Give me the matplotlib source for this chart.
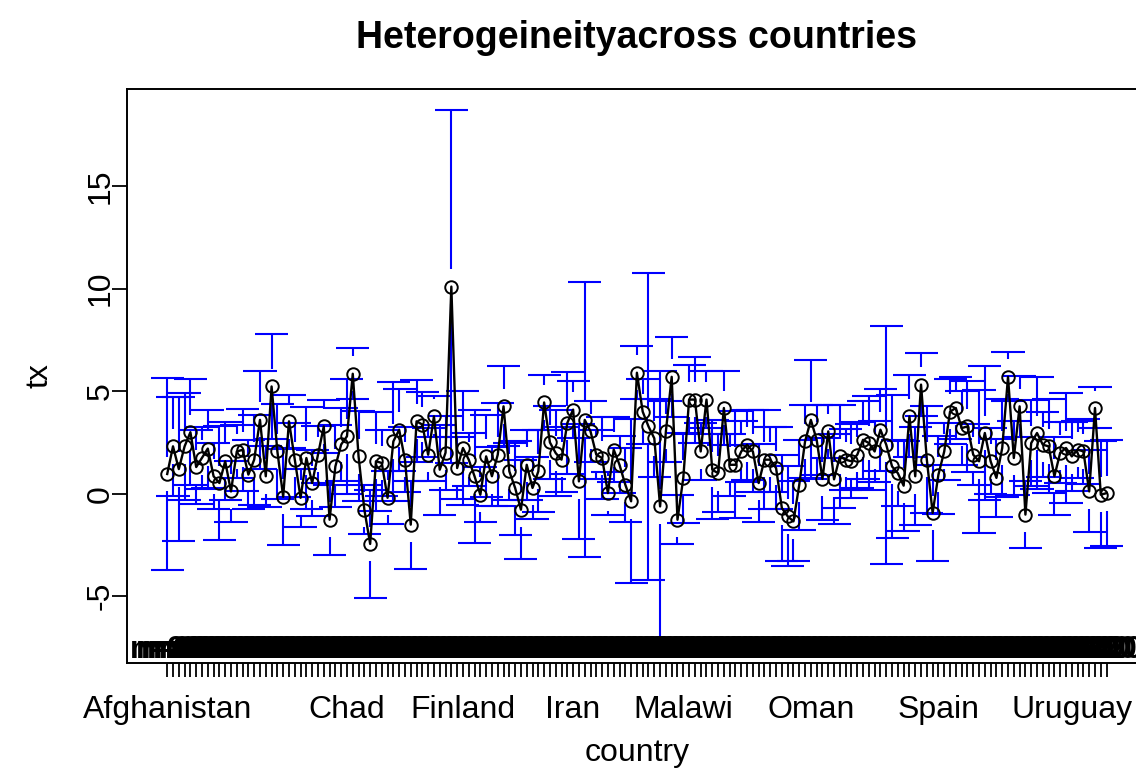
import matplotlib
matplotlib.use("Agg")
import matplotlib.pyplot as plt
import numpy as np
from matplotlib.transforms import blended_transform_factory

plt.rcParams['font.family'] = ['Liberation Sans', 'DejaVu Sans']

countries = [
    "Afghanistan", "Albania", "Algeria", "Angola", "Argentina", "Armenia", "Australia", "Austria",
    "Azerbaijan", "Bahamas", "Bahrain", "Bangladesh", "Barbados", "Belarus", "Belgium", "Belize",
    "Benin", "Bhutan", "Bolivia", "Bosnia and Herzegovina", "Botswana", "Brazil", "Brunei",
    "Bulgaria", "Burkina Faso", "Burundi", "Cambodia", "Cameroon", "Canada", "Cape Verde",
    "Central African Republic", "Chad", "Chile", "China", "Colombia", "Comoros", "Congo, Dem. Rep.",
    "Congo, Rep.", "Costa Rica", "Cote d'Ivoire", "Croatia", "Cyprus", "Czech Republic", "Denmark",
    "Dominican Republic", "Ecuador", "Egypt", "El Salvador", "Estonia", "Ethiopia", "Fiji",
    "Finland", "France", "Gabon", "Gambia", "Georgia", "Germany", "Ghana", "Greece", "Guatemala",
    "Guinea", "Guinea-Bissau", "Guyana", "Haiti", "Honduras", "Hong Kong", "Hungary", "Iceland",
    "India", "Indonesia", "Iran", "Ireland", "Israel", "Italy", "Jamaica", "Japan", "Jordan",
    "Kazakhstan", "Kenya", "Korea", "Kuwait", "Kyrgyzstan", "Lao PDR", "Latvia", "Lebanon",
    "Lesotho", "Lithuania", "Luxembourg", "Madagascar", "Malawi", "Malaysia", "Maldives", "Mali",
    "Malta", "Mauritania", "Mauritius", "Mexico", "Moldova", "Mongolia", "Montenegro", "Morocco",
    "Mozambique", "Myanmar", "Namibia", "Nepal", "Netherlands", "New Zealand", "Nicaragua", "Niger",
    "Nigeria", "Norway", "Oman", "Pakistan", "Panama", "Papua New Guinea", "Paraguay", "Peru",
    "Philippines", "Poland", "Portugal", "Qatar", "Romania", "Russia", "Rwanda", "Saudi Arabia",
    "Senegal", "Serbia", "Sierra Leone", "Singapore", "Slovak Republic", "Slovenia",
    "Solomon Islands", "South Africa", "Spain", "Sri Lanka", "Sudan", "Suriname", "Swaziland",
    "Sweden", "Switzerland", "Syria", "Taiwan", "Tajikistan", "Tanzania", "Thailand", "Togo",
    "Tonga", "Trinidad and Tobago", "Tunisia", "Turkey", "Turkmenistan", "Uganda", "Ukraine",
    "United Arab Emirates", "United Kingdom", "United States", "Uruguay", "Uzbekistan",
    "Venezuela", "Vietnam", "Yemen", "Zambia", "Zimbabwe",
]

shown_labels = ["Afghanistan", "Chad", "Finland", "Iran", "Malawi", "Oman", "Spain", "Uruguay"]

means = [
    0.96, 2.31, 1.2, 2.31, 3.0, 1.3, 1.75, 2.2, 0.85, 0.52,
    1.58, 0.11, 2.06, 2.14, 0.93, 1.66, 3.6, 0.85, 5.23, 2.06,
    -0.15, 3.53, 1.66, -0.2, 1.74, 0.52, 1.9, 3.28, -1.27, 1.33,
    2.4, 2.8, 5.85, 1.82, -0.78, -2.45, 1.58, 1.5, -0.2, 2.55,
    3.12, 1.66, -1.51, 3.53, 3.37, 1.9, 3.77, 1.17, 2.0, 10.1,
    1.25, 2.23, 1.66, 0.85, -0.05, 1.82, 0.85, 1.9, 4.26, 1.09,
    0.28, -0.78, 1.41, 0.28, 1.09, 4.45, 2.5, 1.98, 1.66, 3.45,
    4.1, 0.6, 3.6, 3.04, 1.9, 1.74, 0.03, 2.15, 1.41, 0.44,
    -0.37, 5.9, 4.0, 3.28, 2.7, -0.62, 3.04, 5.7, -1.27, 0.77,
    4.59, 4.59, 2.06, 4.59, 1.17, 1.0, 4.18, 1.41, 1.41, 2.06,
    2.39, 2.06, 0.52, 1.66, 1.66, 1.25, -0.7, -1.1, -1.35, 0.44,
    2.55, 3.6, 2.63, 0.72, 3.04, 0.7, 1.82, 1.66, 1.58, 1.9,
    2.63, 2.47, 2.06, 3.12, 2.39, 1.33, 1.0, 0.39, 3.77, 0.85,
    5.32, 1.66, -0.94, 0.93, 2.06, 4.0, 4.18, 3.2, 3.28, 1.9,
    1.58, 2.96, 1.58, 0.77, 2.23, 5.7, 1.74, 4.26, -1.02, 2.47,
    2.96, 2.39, 2.31, 0.85, 2.0, 2.23, 1.82, 2.15, 2.06, 0.11,
    4.18, -0.05, 0.03,
]

ci_half = [
    4.7, 2.4, 3.5, 2.6, 2.6, 1.8, 1.5, 1.9, 1.6, 2.8,
    1.9, 1.5, 1.3, 2.0, 1.7, 2.2, 2.4, 1.5, 2.55, 2.3,
    2.35, 1.3, 1.8, 1.4, 2.5, 1.6, 1.4, 1.3, 1.7, 2.0,
    1.8, 2.8, 1.25, 2.2, 1.2, 2.65, 2.4, 1.6, 1.3, 2.9,
    2.0, 1.6, 2.15, 2.0, 1.6, 1.3, 1.0, 2.2, 1.8, 8.6,
    1.5, 2.8, 1.3, 3.25, 1.35, 2.0, 1.45, 2.5, 1.95, 1.4,
    2.3, 2.4, 1.7, 1.5, 2.0, 1.35, 1.8, 2.1, 1.6, 2.5,
    1.4, 2.8, 6.7, 1.5, 1.2, 2.0, 1.05, 1.6, 1.4, 1.8,
    4.0, 1.3, 1.6, 7.5, 1.9, 6.6, 1.5, 1.95, 1.2, 2.2,
    1.67, 2.1, 1.4, 1.4, 2.4, 1.9, 1.8, 1.5, 2.6, 1.5,
    1.7, 2.0, 1.9, 2.4, 1.6, 2.0, 2.6, 2.45, 1.95, 2.2,
    1.8, 2.9, 1.7, 2.0, 1.3, 2.2, 2.5, 1.5, 1.8, 1.6,
    1.9, 2.3, 1.5, 2.0, 5.8, 3.5, 1.6, 2.2, 2.0, 2.4,
    1.55, 2.6, 2.36, 1.9, 1.4, 1.6, 1.5, 1.8, 2.2, 1.5,
    3.5, 3.25, 1.6, 1.9, 2.4, 1.2, 1.8, 1.5, 1.65, 2.1,
    2.75, 1.6, 2.3, 1.9, 1.5, 2.7, 1.7, 1.4, 1.6, 2.0,
    1.0, 2.6, 2.6,
]

# number of observations per country (unreadable in the picture: labels overlap into a band)
n_obs = [20] * len(countries)

W, H = 1136, 778
fig = plt.figure(figsize=(W / 100, H / 100), dpi=100)
left_px, right_px, top_px, bot_px = 126.5, 1147.3, 89, 663
ax = fig.add_axes([left_px / W, 1 - bot_px / H, (right_px - left_px) / W, (bot_px - top_px) / H])

x = np.arange(len(countries))
m = np.array(means)
h = np.array(ci_half)
lo = m - h
hi = m + h
gap = 0.85
cap = 2.85

ax.vlines(x, lo, np.maximum(lo, m - gap), color="blue", lw=1.5, zorder=2)
ax.vlines(x, np.minimum(hi, m + gap), hi, color="blue", lw=1.5, zorder=2)
ax.hlines(lo, x - cap, x + cap, color="blue", lw=1.5, zorder=2)
ax.hlines(hi, x - cap, x + cap, color="blue", lw=1.5, zorder=2)

ax.plot(x, m, color="black", lw=1.7, zorder=3)
ax.plot(x, m, "o", mfc="none", mec="black", ms=9, mew=1.4, zorder=3)

trans = blended_transform_factory(ax.transData, ax.transAxes)
for xi, n in zip(x, n_obs):
    ax.text(xi, 0.009, f"n={n}", transform=trans, ha="center", va="baseline",
            fontsize=23, fontweight="bold", color="black", clip_on=True, zorder=5)

n = len(countries)
ext = 0.04 * n
ax.set_xlim(-0.5 - ext, n - 0.5 + ext)
yr = hi.max() - lo.min()
ax.set_ylim(lo.min() - 0.04 * yr, hi.max() + 0.04 * yr)

ax.set_xticks(x)
ax.set_xticklabels([c if c in shown_labels else "" for c in countries], fontsize=23)
ax.set_yticks([-5, 0, 5, 10, 15])
ax.set_yticklabels(["-5", "0", "5", "10", "15"], fontsize=23, rotation=90, va="center")
ax.tick_params(axis="x", length=10, width=1.3, pad=13)
ax.tick_params(axis="y", length=10.5, width=1.3, pad=-3)
for s in ax.spines.values():
    s.set_linewidth(1.4)

fig.text(637 / W, 1 - 38 / H, "Heterogeineityacross countries", fontsize=27,
         fontweight="bold", ha="center", va="center")
fig.text(637 / W, 1 - 753 / H, "country", fontsize=23, ha="center", va="center")
fig.text(40 / W, 1 - 376 / H, "tx", fontsize=23, rotation=90, ha="center", va="center")

fig.savefig("out.png", dpi=100)
